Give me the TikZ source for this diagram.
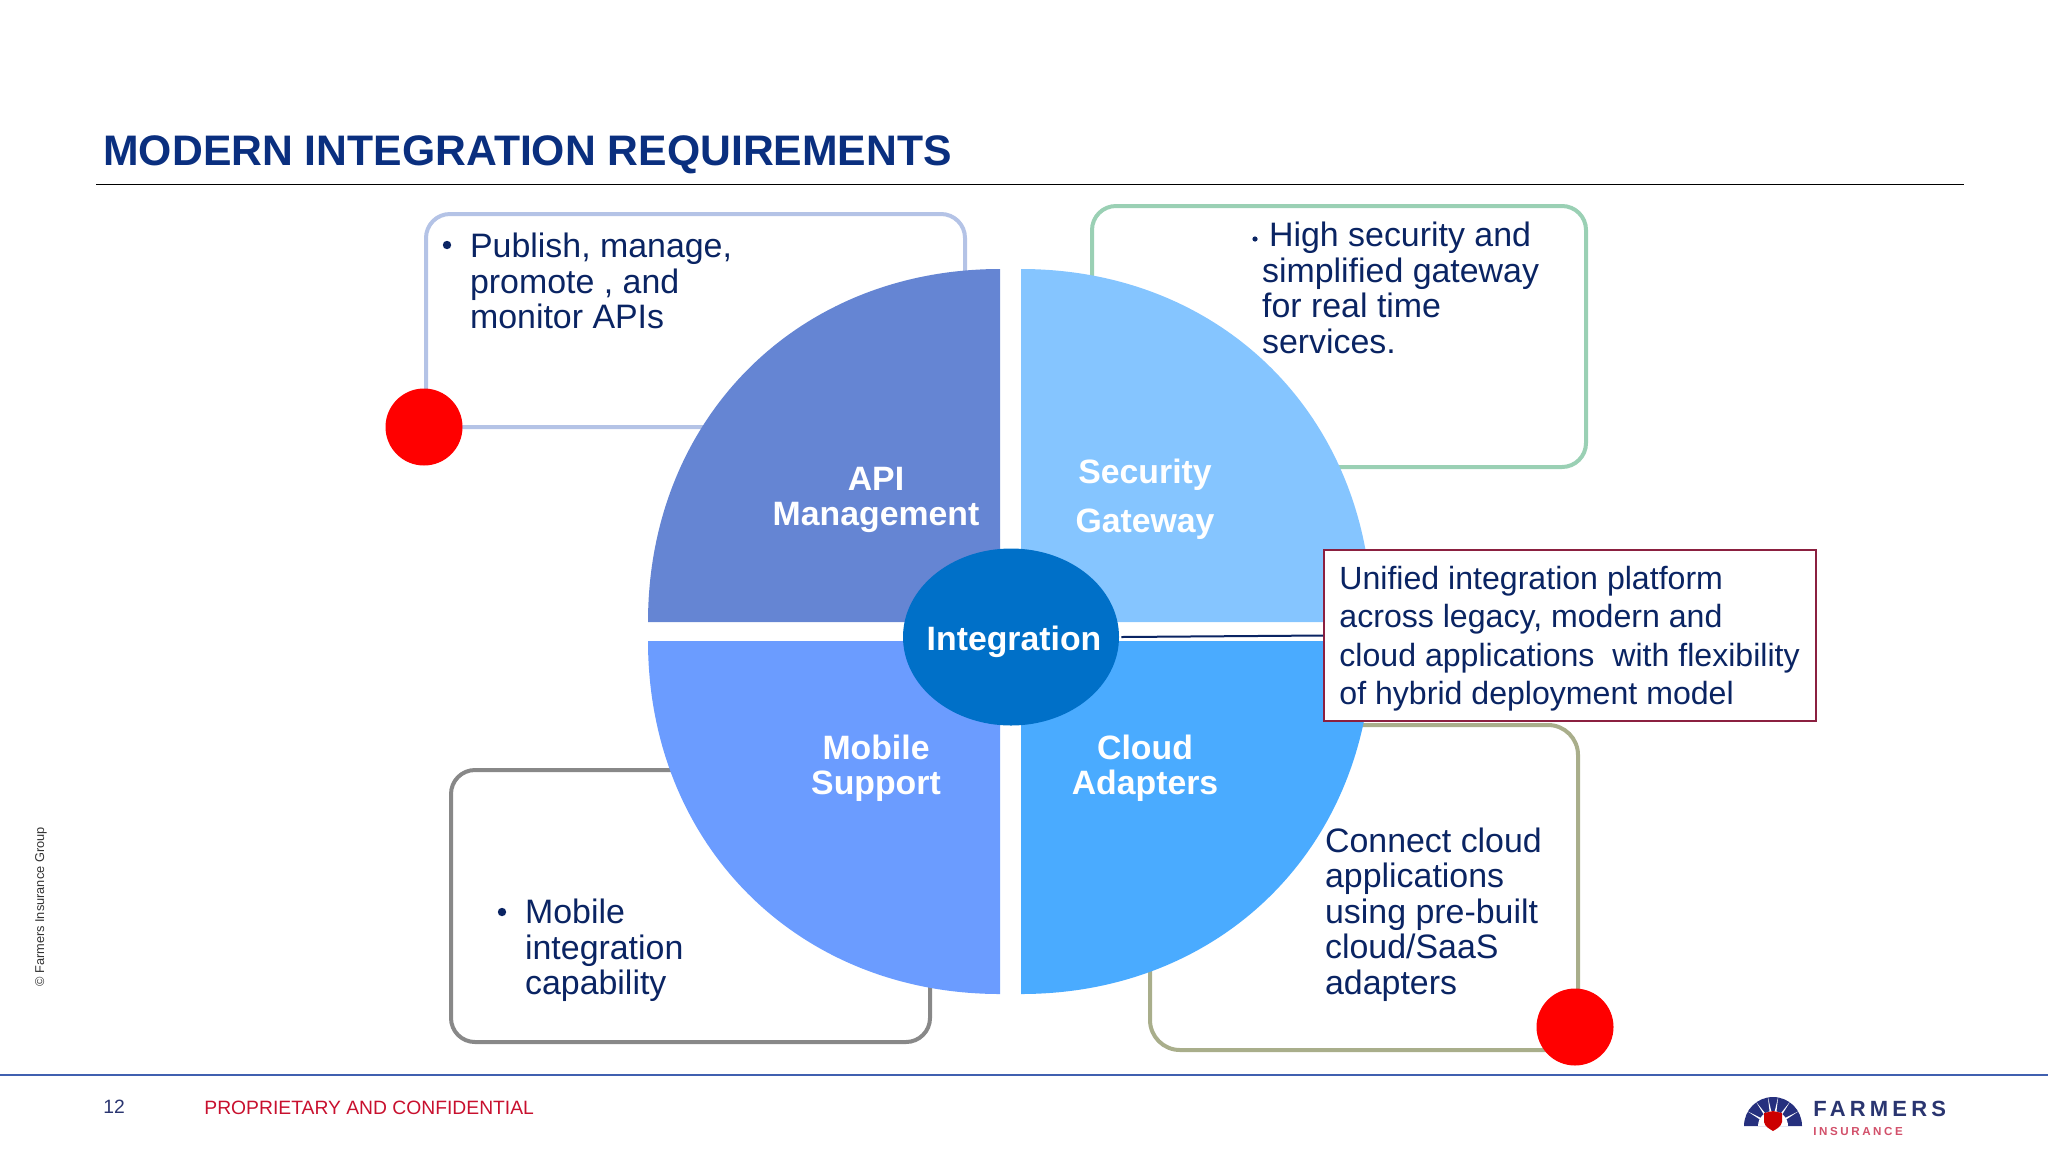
\documentclass[tikz,border=0pt]{standalone}
\usepackage{fontspec}
\setmainfont{Liberation Sans}
\newfontfamily\spacedA[LetterSpace=19]{Liberation Sans}
\newfontfamily\spacedB[LetterSpace=22]{Liberation Sans}
\usetikzlibrary{shapes.geometric}
\definecolor{navy}{HTML}{0A2463}
\definecolor{titleblue}{HTML}{0A2F7F}
\definecolor{apifill}{HTML}{6585D3}
\definecolor{secfill}{HTML}{85C5FF}
\definecolor{mobfill}{HTML}{6B9CFF}
\definecolor{cloudfill}{HTML}{4AABFF}
\definecolor{intfill}{HTML}{0070C8}
\definecolor{apiline}{HTML}{B4C3E6}
\definecolor{secline}{HTML}{9AD0B4}
\definecolor{cloudline}{HTML}{A9AE8B}
\definecolor{mobline}{HTML}{888888}
\definecolor{redline}{HTML}{8B2040}
\definecolor{footline}{HTML}{4060B0}
\definecolor{footred}{HTML}{C8102E}
\definecolor{logonavy}{HTML}{2A3570}
\definecolor{logored}{HTML}{D2506A}
\tikzset{
  framebox/.style={draw,line width=2pt,rounded corners=12pt,inner sep=0pt,fill=none},
  bodytext/.style={text=navy,font=\fontsize{16.95pt}{17.7pt}\selectfont,align=left,inner sep=0pt,anchor=north west},
  plattext/.style={text=navy,font=\fontsize{16.05pt}{19.1pt}\selectfont,align=left,inner sep=0pt,anchor=north west},
  quadtext/.style={text=white,font=\bfseries\fontsize{16.9pt}{17.6pt}\selectfont,align=center,inner sep=0pt},
  bulletdot/.style={circle,fill=navy,inner sep=0pt,minimum size=4.2pt},
  reddot/.style={circle,fill=red,inner sep=0pt,minimum size=38.5pt},
  foottext/.style={font=\fontsize{9.65pt}{11pt}\selectfont,inner sep=0pt,anchor=base west}
}
\begin{document}
\begin{tikzpicture}[x=0.5pt,y=-0.5pt]
\useasboundingbox (0,0) rectangle (2048,1152);
% title
\node[text=titleblue,font=\bfseries\fontsize{21.35pt}{24pt}\selectfont,inner sep=0pt,anchor=base west] (title) at (103,165) {MODERN INTEGRATION REQUIREMENTS};
\coordinate (ruleL) at (96,184); \coordinate (ruleR) at (1964,184);
\draw[black,line width=0.5pt] (ruleL) -- (ruleR);
% frames (behind the wheel)
\node[framebox,draw=apiline,minimum width=269.5pt,minimum height=106.5pt] (apibox) at (695.5,320.5) {};
\node[framebox,draw=secline,minimum width=247pt,minimum height=130.5pt] (secbox) at (1339,336.5) {};
\node[framebox,draw=cloudline,minimum width=214pt,minimum height=162.5pt,rounded corners=15pt] (cloudbox) at (1364,887.5) {};
\node[framebox,draw=mobline,minimum width=239.5pt,minimum height=136pt] (mobbox) at (690.5,906) {};
% wheel
\fill[apifill] (1000,622) -- (648,622) .. controls (648,419) and (797,269) .. (1000,269) -- cycle;
\fill[secfill] (1021,622) -- (1021,269) .. controls (1224,269) and (1372,419) .. (1372,622) -- cycle;
\fill[mobfill] (1000,641) -- (1000,994) .. controls (797,994) and (648,844) .. (648,641) -- cycle;
\fill[cloudfill] (1021,641) -- (1372,641) .. controls (1372,844) and (1224,994) .. (1021,994) -- cycle;
\node[quadtext] (apilabel) at (876,500) {API\\Management};
\node[quadtext] (seclabel1) at (1145,475) {Security};
\node[quadtext] (seclabel2) at (1145,524) {Gateway};
\node[quadtext] (cloudlabel) at (1145,768) {Cloud\\Adapters};
\node[quadtext] (moblabel) at (876,768) {Mobile\\Support};
\node[ellipse,fill=intfill,minimum width=108pt,minimum height=88.5pt,inner sep=0pt] (integ) at (1011,637) {};
\node[text=white,font=\bfseries\fontsize{16.9pt}{20pt}\selectfont,inner sep=0pt] (integlabel) at (1014,642) {Integration};
% platform box
\node[draw=redline,line width=1pt,fill=white,minimum width=246pt,minimum height=85.5pt,inner sep=0pt] (platbox) at (1570,635.5) {};
\draw[navy,line width=1pt] (integ.east) ++(2,0) -- (platbox.west);
\node[plattext] (plat) at (1339,566) {Unified integration platform\\across legacy, modern and\\cloud applications\ \ with flexibility\\of hybrid deployment model};
% frame texts
\node[bulletdot] (b1) at (447,245) {};
\node[bodytext] (apitext) at (469.7,233) {Publish, manage,\\promote , and\\monitor APIs};
\node[bulletdot,minimum size=2.6pt] (b2) at (1255,239) {};
\node[bodytext] (sectext) at (1261.7,222) {\hspace{3.5pt}High security and\\simplified gateway\\for real time\\services.};
\node[bodytext] (cloudtext) at (1324.7,827.5) {Connect cloud\\applications\\using pre-built\\cloud/SaaS\\adapters};
\node[bulletdot] (b3) at (502,912) {};
\node[bodytext] (mobtext) at (524.7,899) {Mobile\\integration\\capability};
% red dots
\node[reddot] (dot1) at (424,427) {};
\node[reddot] (dot2) at (1575,1027) {};
% footer
\coordinate (footL) at (0,1075); \coordinate (footR) at (2048,1075);
\draw[footline,line width=0.7pt] (footL) -- (footR);
\node[foottext,text=logonavy] (pageno) at (103,1113) {12};
\node[foottext,text=footred] (conf) at (204,1114) {PROPRIETARY AND CONFIDENTIAL};
\node[rotate=90,font=\fontsize{6.4pt}{8pt}\selectfont,inner sep=0pt,text=black!80] (copy) at (41,907) {© Farmers Insurance Group};
% logo
\begin{scope}[shift={(1773,1126)}]
\fill[logonavy!90!blue] (-29,0) arc[start angle=180,end angle=0,radius=14.5pt] -- (15,0) -- (-15,0) -- cycle;
\foreach \a in {-150,-125,-100,-80,-55,-30}
  \fill[white] (\a-5:12) -- (\a:30) -- (\a+5:12) -- cycle;
\fill[white] (-15,0) arc[start angle=180,end angle=0,radius=7.5pt] -- cycle;
\fill[red!80!black] (-9,-13) -- (0,-15) -- (9,-13) -- (9,-4) .. controls (8,1) and (3,3) .. (0,5) .. controls (-3,3) and (-8,1) .. (-9,-4) -- cycle;
\end{scope}
\node[text=logonavy,font=\spacedA\bfseries\fontsize{11pt}{12pt}\selectfont,inner sep=0pt,anchor=base west] (farmers) at (1813,1116) {FARMERS};
\node[text=logored,font=\spacedB\bfseries\fontsize{5.8pt}{7pt}\selectfont,inner sep=0pt,anchor=base west] (insurance) at (1813,1135) {INSURANCE};
\end{tikzpicture}
\end{document}
